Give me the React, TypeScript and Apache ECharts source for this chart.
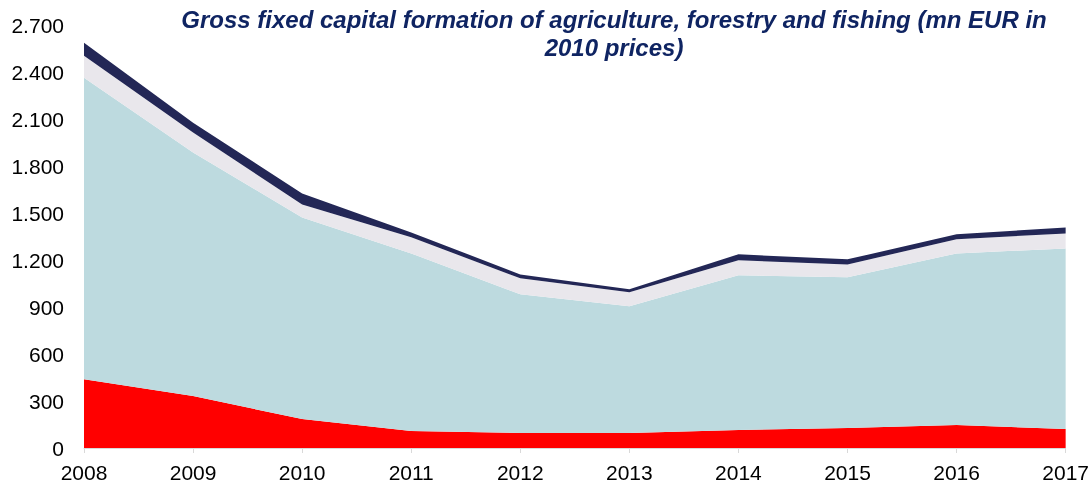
import React, { useEffect, useRef } from "react";
import * as echarts from "echarts";

const years = ["2008", "2009", "2010", "2011", "2012", "2013", "2014", "2015", "2016", "2017"];
const redSeries = [440, 332, 185, 108, 96, 96, 115, 128, 147, 121];
const blueSeries = [1928, 1557, 1289, 1136, 887, 810, 989, 963, 1097, 1155];
const graySeries = [140, 128, 83, 103, 102, 89, 96, 83, 90, 96];
const navySeries = [83, 63, 70, 31, 25, 20, 38, 32, 32, 38];

const titleText = "Gross fixed capital formation of agriculture, forestry and fishing (mn EUR in\n2010 prices)";

const fontFamily = "Liberation Sans, Arial, sans-serif";

export default function App() {
  const ref = useRef<HTMLDivElement>(null);
  useEffect(() => {
    const chart = echarts.init(ref.current!, null, { renderer: "svg" });
    const mk = (name: string, data: number[], color: string) => ({
      name,
      type: "line",
      stack: "total",
      data,
      symbol: "none",
      lineStyle: { width: 0 },
      areaStyle: { color, opacity: 1 },
      itemStyle: { color },
    });
    chart.setOption({
      animation: false,
      title: {
        text: titleText,
        left: 609,
        top: 0,
        textAlign: "center",
        textStyle: {
          fontFamily,
          fontSize: 24,
          fontWeight: "bold",
          fontStyle: "italic",
          color: "#0f2462",
          lineHeight: 28,
        },
      },
      grid: { left: 84, right: 25, top: 25.7, bottom: 36, containLabel: false },
      xAxis: {
        type: "category",
        data: years,
        boundaryGap: false,
        axisLine: { lineStyle: { color: "#d9d9d9", width: 1 } },
        axisTick: { show: true, alignWithLabel: true, length: 5, lineStyle: { color: "#d9d9d9" } },
        axisLabel: {
          color: "#000",
          fontSize: 21,
          fontFamily,
          margin: 14,
        },
        splitLine: { show: false },
      },
      yAxis: {
        type: "value",
        min: 0,
        max: 2700,
        interval: 300,
        axisLine: { show: false },
        axisTick: { show: false },
        splitLine: { show: false },
        axisLabel: {
          color: "#000",
          fontSize: 21,
          fontFamily,
          margin: 20,
          formatter: (v: number) => String(v).replace(/\B(?=(\d{3})+(?!\d))/g, "."),
        },
      },
      series: [
        mk("Red", redSeries, "#ff0000"),
        mk("Blue", blueSeries, "#bddadf"),
        mk("Gray", graySeries, "#e9e7ec"),
        mk("Navy", navySeries, "#232756"),
      ],
    });
    return () => chart.dispose();
  }, []);
  return <div ref={ref} style={{ position: "fixed", left: 0, top: 0, width: 1092, height: 484 }} />;
}
